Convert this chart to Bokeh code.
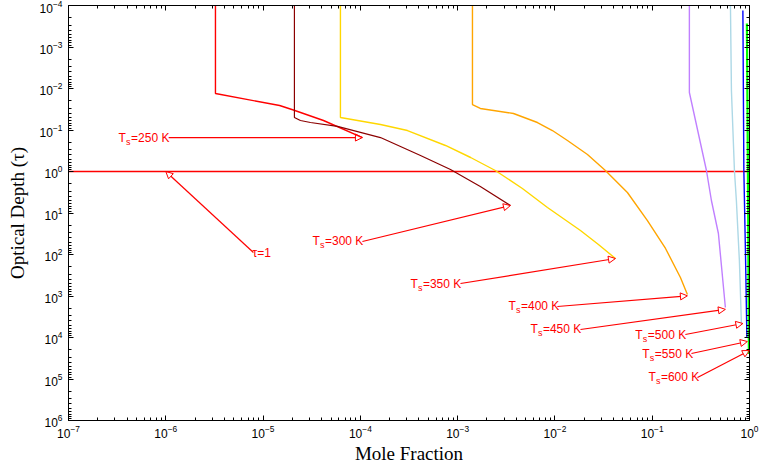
from bokeh.plotting import figure
from bokeh.models import (Range1d, LogAxis, FixedTicker, LogTickFormatter, Arrow,
                          NormalHead, ColumnDataSource, CustomJSTickFormatter)
from bokeh.core.properties import value
from bokeh.embed import file_html
from bokeh.resources import INLINE

# ---------------- data ----------------
T250_x = [3.24e-6, 3.24e-6, 1.48e-5, 2.05e-5, 4.18e-5, 1.05e-4]
T250_tau = [1e-4, 0.0132, 0.0257, 0.033, 0.059, 0.152]

T300_x = [2.10e-5, 2.10e-5, 2.42e-5, 3.07e-5, 5.82e-5, 1.61e-4, 4.15e-4, 8.44e-4, 1.71e-3, 3.49e-3]
T300_tau = [1e-4, 0.050, 0.059, 0.066, 0.082, 0.152, 0.411, 0.895, 2.30, 6.6]

T350_x = [6.24e-5, 6.24e-5, 1.61e-4, 3.05e-4, 7.50e-4, 1.36e-3, 2.44e-3, 4.63e-3, 8.38e-3,
          0.0183, 0.028, 0.0419]
T350_tau = [1e-4, 0.050, 0.0736, 0.103, 0.236, 0.460, 0.946, 2.57, 7.36, 26.4, 57.4, 125]

T400_x = [1.42e-3, 1.42e-3, 1.71e-3, 3.75e-3, 6.61e-3, 9.42e-3, 0.01345, 0.0216, 0.0330,
          0.0556, 0.0893, 0.137, 0.195, 0.230]
T400_tau = [1e-4, 0.0243, 0.0303, 0.040, 0.066, 0.103, 0.179, 0.389, 0.946,
            3.21, 15.2, 71.6, 358, 920]

T450_x = [0.241, 0.241, 0.361, 0.406, 0.479, 0.565]
T450_tau = [1e-4, 0.0125, 0.946, 5.0, 31.2, 1890]

T500_x = [0.637, 0.652, 0.700, 0.733, 0.787, 0.826]
T500_tau = [1e-4, 0.0112, 0.946, 5.0, 140, 4600]

T550_x = [0.855, 0.875, 0.908, 0.940]
T550_tau = [1.32e-4, 0.946, 80, 9770]

T600_x = [0.940, 0.963, 0.986]
T600_tau = [2.72e-4, 0.946, 25000]

series_x = [T250_x, T300_x, T350_x, T400_x, T450_x, T500_x, T550_x, T600_x]
series_tau = [T250_tau, T300_tau, T350_tau, T400_tau, T450_tau, T500_tau, T550_tau, T600_tau]
series_colors = ["#ff0000", "#8b0000", "#ffd700", "#ffa500", "#c080ff", "#add8e6", "#0000ff", "#00ff00"]
series_widths = [1.4, 1.2, 1.4, 1.4, 1.4, 1.4, 1.4, 2.2]

# tau = 1 reference line
tau1_line_x = [1e-7, 1e0]
tau1_line_y = [1.0, 1.0]

# annotations
ann_text = ["=250 K", "=300 K", "=350 K", "=400 K", "=450 K", "=500 K", "=550 K", "=600 K"]
ann_x = [3.27e-7, 3.22e-5, 3.27e-4, 3.33e-3, 5.60e-3, 0.0671, 0.0792, 0.0914]
ann_y = [0.152, 48.6, 500, 1790, 6410, 8470, 24300, 92000]
arr_x0 = [1.07e-6, 1.05e-4, 1.07e-3, 0.0106, 0.0183, 0.219, 0.253, 0.292]
arr_y0 = [0.152, 48.6, 500, 1790, 6410, 8470, 24300, 92000]
arr_x1 = [1.05e-4, 3.49e-3, 0.0419, 0.230, 0.565, 0.855, 0.951, 1.0]
arr_y1 = [0.152, 6.6, 125, 990, 2100, 4600, 12500, 20600]

tau1_text_x, tau1_text_y = 7.78e-6, 94.6
tau1_arr = (7.96e-6, 89.5, 1e-6, 1.0)

x_major = [1e-7, 1e-6, 1e-5, 1e-4, 1e-3, 1e-2, 1e-1, 1e0]
y_major = [1e-4, 1e-3, 1e-2, 1e-1, 1e0, 1e1, 1e2, 1e3, 1e4, 1e5, 1e6]

def minors(majors):
    out = []
    for m in majors[:-1]:
        for k in range(2, 10):
            out.append(m * k)
    return out

# ---------------- figure ----------------
p = figure(width=759, height=467, x_axis_type="log", y_axis_type="log",
           x_range=Range1d(1e-7, 1), y_range=Range1d(1e6, 1e-4),
           output_backend="svg", toolbar_location=None,
           min_border_left=68, min_border_right=10, min_border_top=5, min_border_bottom=47)
p.grid.visible = False
p.outline_line_color = "black"
p.background_fill_color = "white"
p.border_fill_color = "white"

xt = FixedTicker(ticks=x_major, minor_ticks=minors(x_major))
yt = FixedTicker(ticks=y_major, minor_ticks=minors(y_major))

for ax, t in ((p.xaxis[0], xt), (p.yaxis[0], yt)):
    ax.ticker = t
    ax.formatter = LogTickFormatter()
    ax.major_tick_in = 5
    ax.major_tick_out = 0
    ax.minor_tick_in = 3
    ax.minor_tick_out = 0
    ax.major_label_text_font = "Liberation Sans"
    ax.major_label_text_font_size = "12px"
    ax.major_label_text_color = "black"
    ax.axis_line_color = "black"
    ax.major_tick_line_color = "black"
    ax.minor_tick_line_color = "black"
    ax.axis_label_text_font = "Liberation Serif"
    ax.axis_label_text_font_style = "normal"
    ax.axis_label_text_font_size = "19px"
    ax.axis_label_text_color = "black"

p.xaxis.major_label_standoff = 4
p.xaxis.axis_label_standoff = 2
p.yaxis.major_label_standoff = 6
p.yaxis.axis_label_standoff = 9

p.xaxis.axis_label = "Mole Fraction"
p.yaxis.axis_label = "Optical Depth (τ)"

for loc, t in (("above", xt), ("right", yt)):
    ax = LogAxis(ticker=t, formatter=CustomJSTickFormatter(code="return ''"),
                 major_tick_in=5, major_tick_out=0, minor_tick_in=3, minor_tick_out=0,
                 major_label_standoff=0, major_label_text_font_size="0px",
                 axis_line_color="black")
    p.add_layout(ax, loc)

# tau = 1 line
p.line(tau1_line_x, tau1_line_y, line_color="#ff0000", line_width=1.5)

# curves
for xs, ts, c, w in zip(series_x, series_tau, series_colors, series_widths):
    p.line(xs, ts, line_color=c, line_width=w)

# arrows
src = ColumnDataSource(dict(x0=arr_x0 + [tau1_arr[0]], y0=arr_y0 + [tau1_arr[1]],
                            x1=arr_x1 + [tau1_arr[2]], y1=arr_y1 + [tau1_arr[3]]))
p.add_layout(Arrow(end=NormalHead(size=7, fill_color=None, line_color="#ff0000", line_width=1),
                   x_start="x0", y_start="y0", x_end="x1", y_end="y1",
                   source=src, line_color="#ff0000", line_width=1.2))

# labels: T, subscript s, rest
f = value("Liberation Sans")
p.text(x=ann_x, y=ann_y, text=["T"] * len(ann_x), text_font=f, text_font_size="12px",
       text_color="#ff0000", text_baseline="middle", text_align="left")
p.text(x=ann_x, y=ann_y, text=["s"] * len(ann_x), text_font=f, text_font_size="9px",
       text_color="#ff0000", text_baseline="middle", text_align="left",
       x_offset=7.5, y_offset=4)
p.text(x=ann_x, y=ann_y, text=ann_text, text_font=f, text_font_size="12px",
       text_color="#ff0000", text_baseline="middle", text_align="left", x_offset=12.5)
p.text(x=[tau1_text_x], y=[tau1_text_y], text=["τ=1"], text_font=f, text_font_size="12px",
       text_color="#ff0000", text_baseline="middle", text_align="left")

open("out.html", "w").write(file_html(p, INLINE))
